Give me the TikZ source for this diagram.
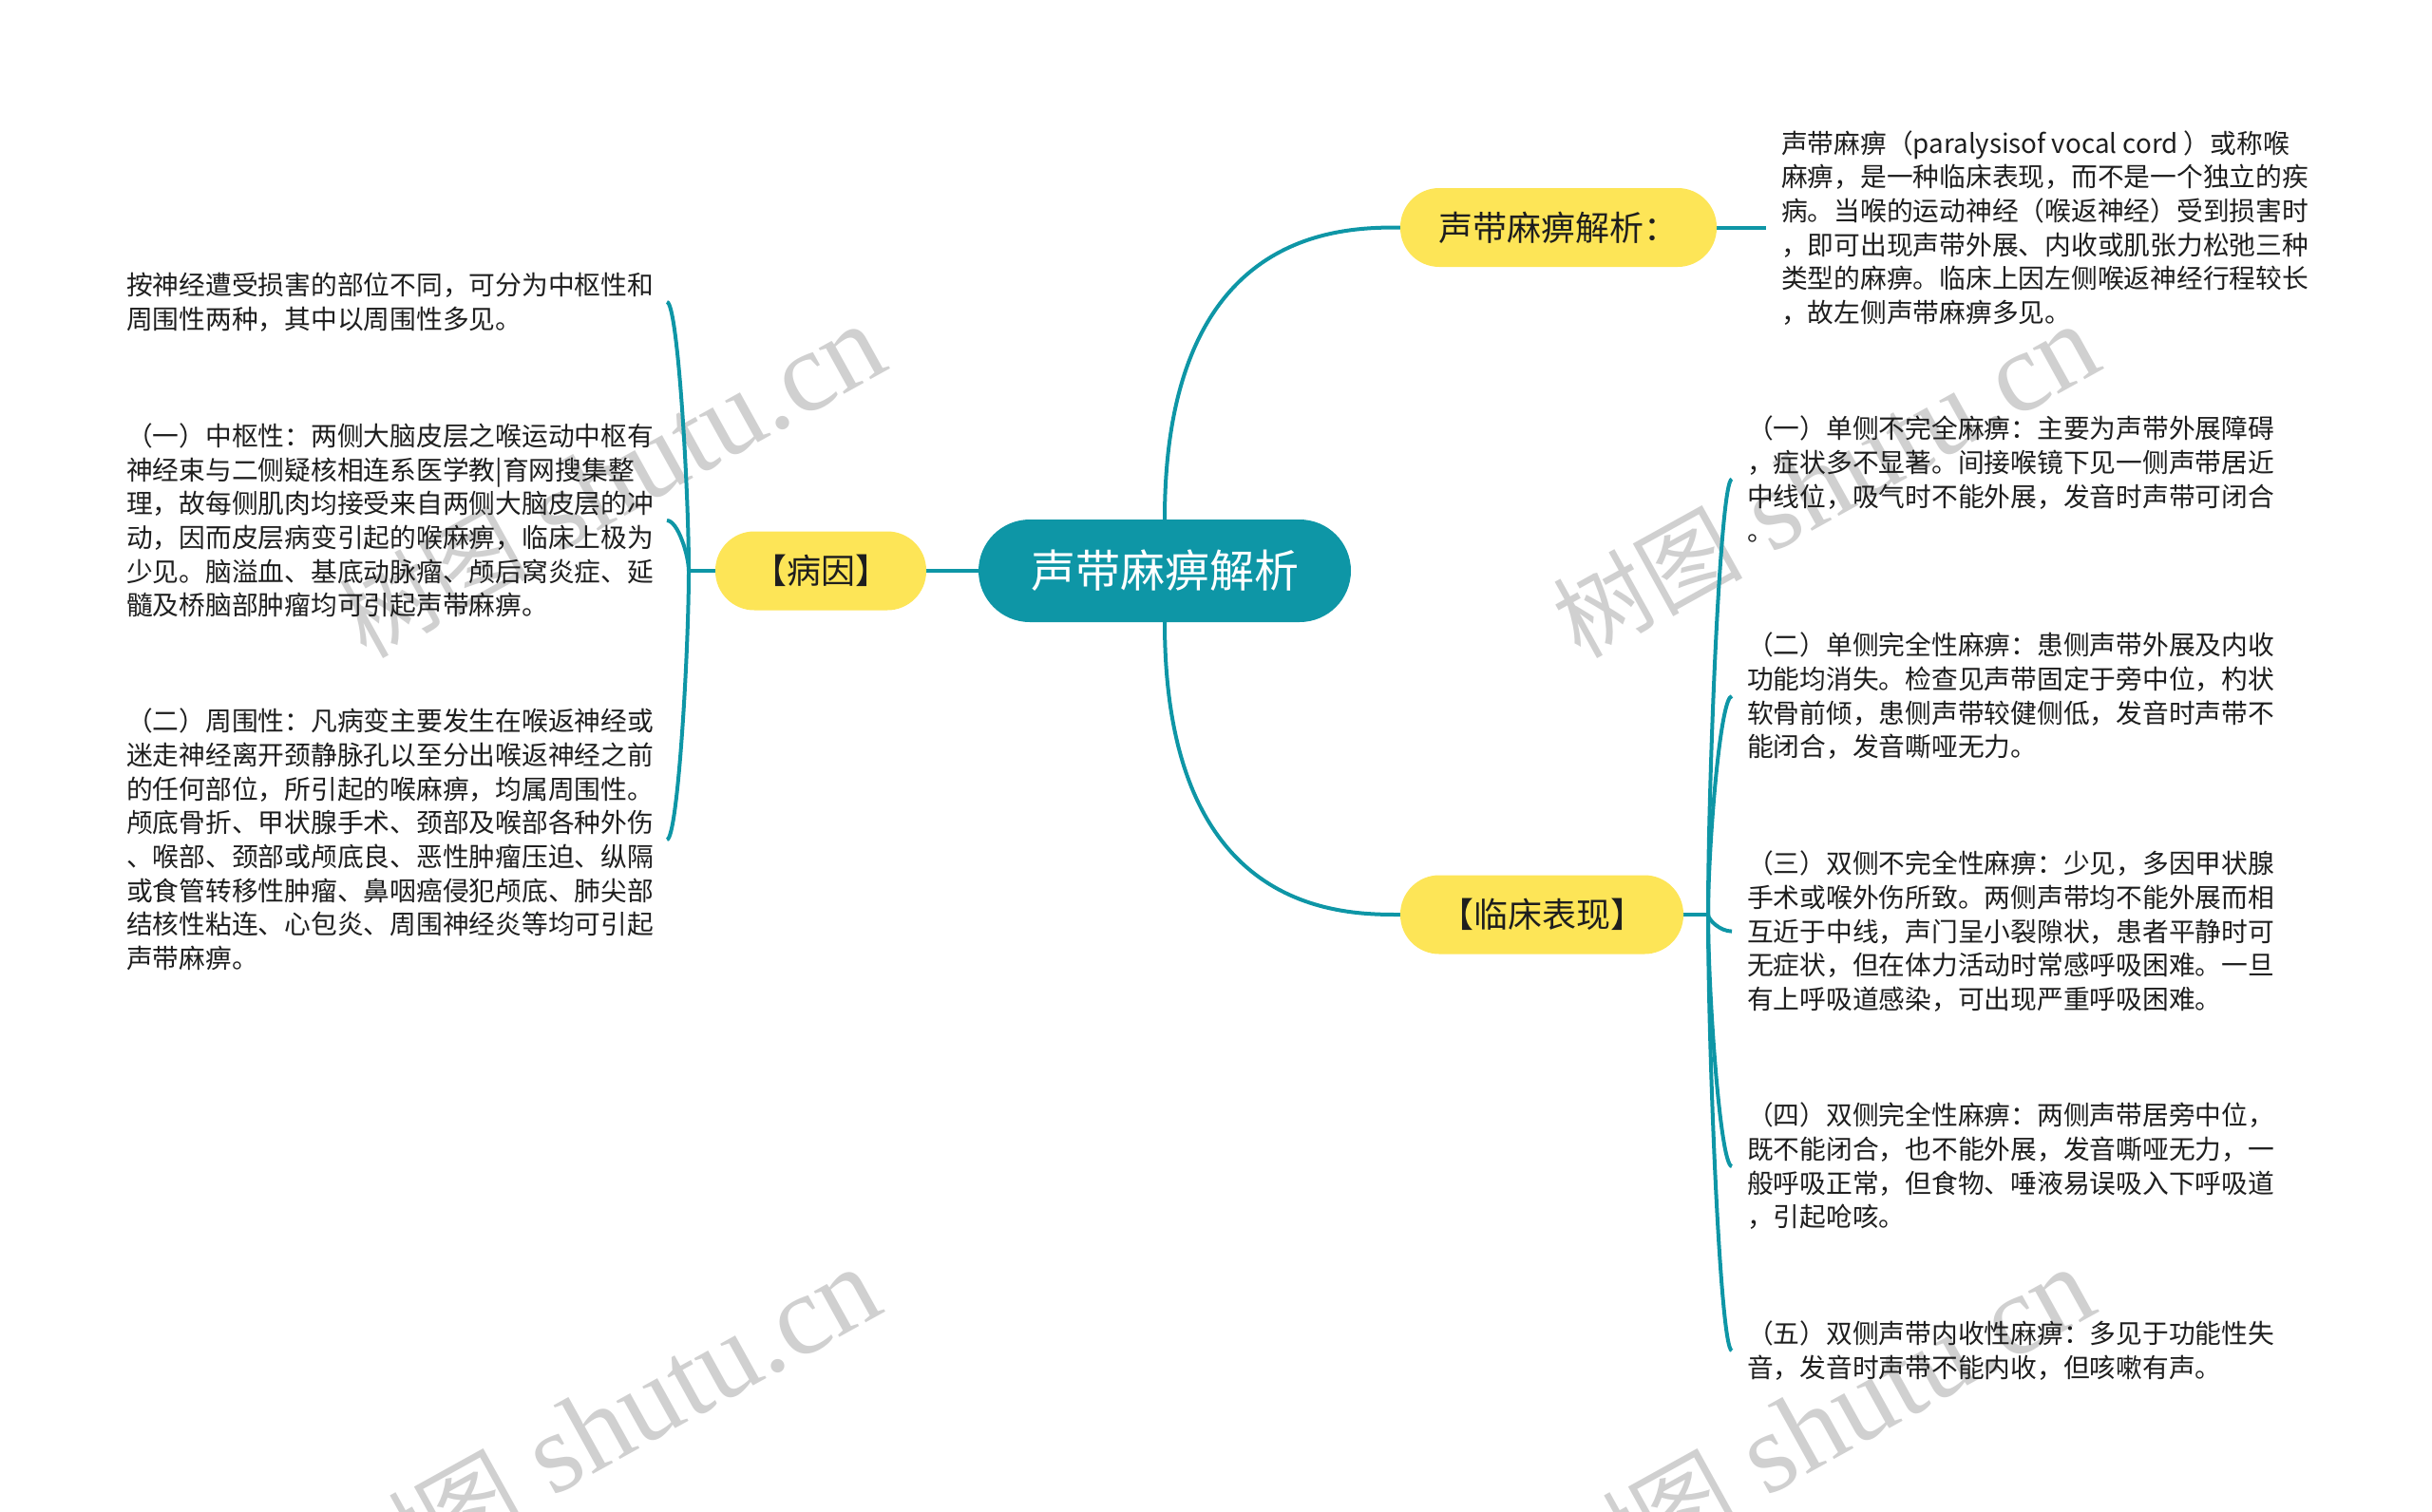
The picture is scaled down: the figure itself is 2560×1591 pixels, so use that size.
\documentclass[tikz,border=0pt]{standalone}
\usepackage{fontspec}
\setmainfont{Noto Sans CJK SC}
\newfontfamily\wmlatin{Liberation Serif}
\usetikzlibrary{calc}
\definecolor{tealc}{RGB}{14,150,166}
\definecolor{yel}{RGB}{253,229,87}
\definecolor{txt}{RGB}{30,30,30}
\definecolor{wmc}{RGB}{208,208,208}
\pgfdeclarelayer{wmlayer}
\pgfdeclarelayer{bglayer}
\pgfsetlayers{wmlayer,bglayer,main}
\newcommand\brconn[2]{\draw[conn] (#1) .. controls ($(#1)!0.3!(#1|-#2)$) and ($(#2)!0.5!(#1|-#2)$) .. (#2);}
\newcommand\mainconn[2]{\draw[conn] (#1) .. controls (#1|-#2) and ($(#2)!0.25!(#1|-#2)$) .. (#2);}
\begin{document}
\begin{tikzpicture}[x=1pt,y=-1pt,
  conn/.style={draw=tealc,line width=4pt},
  ynode/.style={fill=yel,rounded corners=41pt,minimum height=83pt,inner sep=0pt,text=txt,font=\fontsize{36}{40}\selectfont},
  cnode/.style={fill=tealc,rounded corners=54pt,minimum height=108pt,minimum width=392pt,inner sep=0pt,text=white,font=\fontsize{47}{50}\selectfont},
  body/.style={anchor=west,align=left,inner sep=0pt,text=txt,font=\fontsize{27.75}{35.7}\selectfont},
  wmark/.style={text=wmc,rotate=29,anchor=base west,inner sep=0pt}
]
\useasboundingbox (0,0) rectangle (2560,1591);

% watermarks
\begin{pgfonlayer}{wmlayer}
\begin{scope}
\clip (0,0) rectangle (2560,1591);
\foreach \wx/\wy/\wn in {385/695/wa,1663/695/wb,380/1688/wc,1658/1688/wd}{
  \node[wmark] (\wn) at (\wx,\wy) {{\fontsize{100}{100}\selectfont 树图}{\wmlatin\fontsize{120}{120}\selectfont\ shutu.cn}};
}
\end{scope}
\end{pgfonlayer}

% main nodes
\node[cnode] (c) at (1226,601) {声带麻痹解析};
\node[ynode,minimum width=333pt] (a) at (1640.5,239.5) {声带麻痹解析：};
\node[ynode,minimum width=222pt] (b) at (864,601) {【病因】};
\node[ynode,minimum width=298pt] (d) at (1623,963) {【临床表现】};

% text blocks
\node[body] (t1) at (133,318) {按神经遭受损害的部位不同，可分为中枢性和\\周围性两种，其中以周围性多见。};
\node[body] (t2) at (133,548) {（一）中枢性：两侧大脑皮层之喉运动中枢有\\神经束与二侧疑核相连系医学教|育网搜集整\\理，故每侧肌肉均接受来自两侧大脑皮层的冲\\动，因而皮层病变引起的喉麻痹，临床上极为\\少见。脑溢血、基底动脉瘤、颅后窝炎症、延\\髓及桥脑部肿瘤均可引起声带麻痹。};
\node[body] (t3) at (133,884) {（二）周围性：凡病变主要发生在喉返神经或\\迷走神经离开颈静脉孔以至分出喉返神经之前\\的任何部位，所引起的喉麻痹，均属周围性。\\颅底骨折、甲状腺手术、颈部及喉部各种外伤\\、喉部、颈部或颅底良、恶性肿瘤压迫、纵隔\\或食管转移性肿瘤、鼻咽癌侵犯颅底、肺尖部\\结核性粘连、心包炎、周围神经炎等均可引起\\声带麻痹。};

\node[body] (rt) at (1875,240) {声带麻痹（paralysisof vocal cord ）或称喉\\麻痹，是一种临床表现，而不是一个独立的疾\\病。当喉的运动神经（喉返神经）受到损害时\\，即可出现声带外展、内收或肌张力松弛三种\\类型的麻痹。临床上因左侧喉返神经行程较长\\，故左侧声带麻痹多见。};

\node[body] (r1) at (1839,504.5) {（一）单侧不完全麻痹：主要为声带外展障碍\\，症状多不显著。间接喉镜下见一侧声带居近\\中线位，吸气时不能外展，发音时声带可闭合\\。};
\node[body] (r2) at (1839,733) {（二）单侧完全性麻痹：患侧声带外展及内收\\功能均消失。检查见声带固定于旁中位，杓状\\软骨前倾，患侧声带较健侧低，发音时声带不\\能闭合，发音嘶哑无力。};
\node[body] (r3) at (1839,980.6) {（三）双侧不完全性麻痹：少见，多因甲状腺\\手术或喉外伤所致。两侧声带均不能外展而相\\互近于中线，声门呈小裂隙状，患者平静时可\\无症状，但在体力活动时常感呼吸困难。一旦\\有上呼吸道感染，可出现严重呼吸困难。};
\node[body] (r4) at (1839,1228) {（四）双侧完全性麻痹：两侧声带居旁中位，\\既不能闭合，也不能外展，发音嘶哑无力，一\\般呼吸正常，但食物、唾液易误吸入下呼吸道\\，引起呛咳。};
\node[body] (r5) at (1839,1422) {（五）双侧声带内收性麻痹：多见于功能性失\\音，发音时声带不能内收，但咳嗽有声。};

% junctions and connector ends
\coordinate (jl) at (725,601);
\coordinate (jr) at (1798,963);
\coordinate (et1) at (702,318);
\coordinate (et2) at (702,548);
\coordinate (et3) at (702,884);
\coordinate (ert) at (1859,239.5);
\coordinate (er1) at (1823,504.5);
\coordinate (er2) at (1823,733);
\coordinate (er3) at (1823,980.6);
\coordinate (er4) at (1823,1228);
\coordinate (er5) at (1823,1422);

\begin{pgfonlayer}{bglayer}
\mainconn{c.north}{a.west}
\mainconn{c.south}{d.west}
\draw[conn] (c.west) -- (b.east);
\draw[conn] (b.west) -- (jl);
\draw[conn] (d.east) -- (jr);
\draw[conn] (a.east) -- (ert);
\brconn{jl}{et1}
\brconn{jl}{et2}
\brconn{jl}{et3}
\brconn{jr}{er1}
\brconn{jr}{er2}
\brconn{jr}{er3}
\brconn{jr}{er4}
\brconn{jr}{er5}
\end{pgfonlayer}
\end{tikzpicture}
\end{document}
